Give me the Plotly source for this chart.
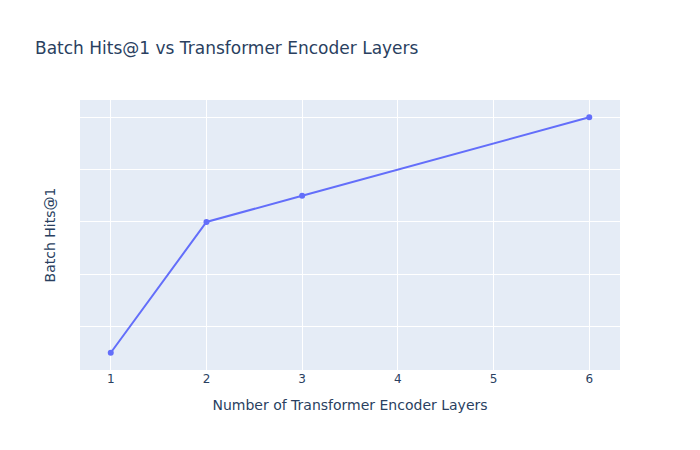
import plotly.graph_objects as go

layers = [1, 2, 3, 6]
hits_at_1 = [0.29, 0.34, 0.35, 0.38]

fig = go.Figure()
fig.add_trace(go.Scatter(x=layers, y=hits_at_1, mode="lines+markers"))
fig.update_layout(
    template="plotly",
    width=700,
    height=450,
    margin=dict(l=72, r=88, t=92, b=88, autoexpand=False),
    font=dict(family="DejaVu Sans"),
    title=dict(text="Batch Hits@1 vs Transformer Encoder Layers", x=27 / 700),
    xaxis_title="Number of Transformer Encoder Layers",
    yaxis_title="Batch Hits@1",
)
fig.update_yaxes(showticklabels=False, automargin=True, title_standoff=20)
fig.write_html("out.html")
